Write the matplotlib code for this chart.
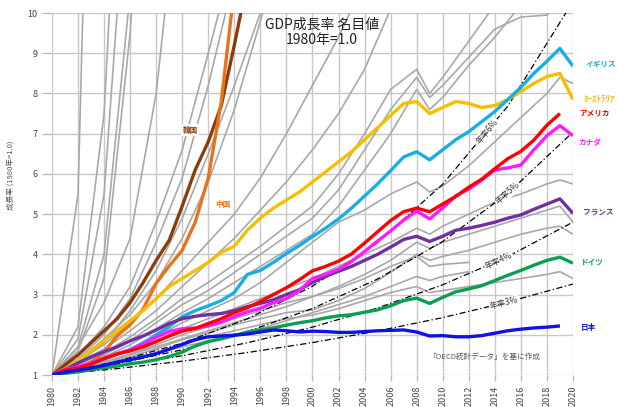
import numpy as np
import matplotlib
matplotlib.use('Agg')
import matplotlib.pyplot as plt

plt.rcParams['font.family'] = ['Noto Sans CJK JP', 'DejaVu Sans']

nan = np.nan
years = np.arange(1980, 2021)

# highlighted countries, yearly 1980-2020 (1980 = 1.0)
uk = [1.0, 1.09, 1.19, 1.3, 1.39, 1.52, 1.63, 1.8, 2.0, 2.2, 2.45, 2.6, 2.72, 2.85, 3.05, 3.5,
      3.6, 3.8, 4.02, 4.22, 4.44, 4.65, 4.88, 5.15, 5.45, 5.75, 6.08, 6.42, 6.55, 6.35, 6.6,
      6.85, 7.05, 7.3, 7.55, 7.85, 8.15, 8.5, 8.8, 9.12, 8.68]
australia = [1.0, 1.15, 1.35, 1.6, 1.85, 2.1, 2.35, 2.6, 2.9, 3.2, 3.4, 3.6, 3.8, 4.05, 4.2,
             4.6, 4.9, 5.15, 5.35, 5.55, 5.8, 6.05, 6.3, 6.55, 6.85, 7.15, 7.45, 7.75, 7.8,
             7.5, 7.65, 7.8, 7.75, 7.65, 7.7, 7.85, 8.05, 8.25, 8.42, 8.5, 7.85]
usa = [1.0, 1.12, 1.17, 1.27, 1.41, 1.52, 1.6, 1.7, 1.83, 1.97, 2.09, 2.16, 2.28, 2.4, 2.55,
       2.67, 2.83, 3.0, 3.17, 3.37, 3.59, 3.7, 3.83, 4.01, 4.28, 4.56, 4.84, 5.06, 5.15, 5.06,
       5.25, 5.44, 5.67, 5.87, 6.13, 6.38, 6.56, 6.84, 7.21, 7.5, nan]
canada = [1.0, 1.14, 1.2, 1.3, 1.42, 1.53, 1.62, 1.77, 1.94, 2.08, 2.15, 2.17, 2.22, 2.31, 2.45,
          2.57, 2.66, 2.8, 2.9, 3.1, 3.4, 3.5, 3.63, 3.82, 4.07, 4.33, 4.58, 4.85, 5.08, 4.88,
          5.15, 5.45, 5.62, 5.85, 6.1, 6.15, 6.22, 6.6, 6.95, 7.2, 6.95]
france = [1.0, 1.13, 1.3, 1.45, 1.58, 1.7, 1.85, 1.97, 2.12, 2.28, 2.4, 2.46, 2.5, 2.53, 2.6,
          2.7, 2.78, 2.87, 3.0, 3.12, 3.3, 3.45, 3.58, 3.7, 3.85, 4.0, 4.18, 4.37, 4.45, 4.32,
          4.45, 4.6, 4.65, 4.72, 4.8, 4.9, 4.98, 5.12, 5.25, 5.38, 5.02]
germany = [1.0, 1.04, 1.08, 1.13, 1.18, 1.22, 1.28, 1.32, 1.38, 1.46, 1.57, 1.72, 1.83, 1.9,
           1.98, 2.07, 2.12, 2.17, 2.24, 2.3, 2.35, 2.42, 2.47, 2.5, 2.56, 2.62, 2.72, 2.85,
           2.91, 2.78, 2.93, 3.07, 3.14, 3.22, 3.35, 3.48, 3.6, 3.73, 3.85, 3.93, 3.78]
japan = [1.0, 1.07, 1.12, 1.17, 1.24, 1.32, 1.38, 1.45, 1.53, 1.64, 1.76, 1.88, 1.95, 1.97,
         1.99, 2.02, 2.07, 2.12, 2.1, 2.07, 2.09, 2.08, 2.06, 2.06, 2.08, 2.1, 2.11, 2.12,
         2.07, 1.97, 1.98, 1.95, 1.95, 1.98, 2.04, 2.1, 2.14, 2.17, 2.19, 2.22, nan]
korea = [1.0, 1.25, 1.5, 1.8, 2.1, 2.4, 2.8, 3.3, 3.85, 4.35, 5.2, 6.1, 6.8, 7.7, 9.2, 10.8] + [nan] * 25
china = [1.0, 1.07, 1.16, 1.31, 1.57, 1.97, 2.25, 2.64, 3.28, 3.71, 4.1, 4.8, 5.9, 7.8, 10.6] + [nan] * 26

# other OECD countries (grey), sampled years
gray_years = [1980, 1982, 1984, 1986, 1988, 1990, 1992, 1994, 1996, 1998, 2000, 2002, 2004,
              2006, 2008, 2009, 2010, 2012, 2014, 2016, 2018, 2019, 2020]
others = [
    [1, 5.5, 30],
    [1, 2.2, 7.5, 20],
    [1, 1.9, 5.5, 14.5],
    [1, 1.7, 4.0, 10.5],
    [1, 1.6, 3.4, 9.5, 20],
    [1, 1.7, 2.8, 4.4, 8.0, 14],
    [1, 1.5, 2.2, 3.2, 4.8, 6.6, 9.0, 11.5],
    [1, 1.4, 2.0, 2.9, 4.3, 5.9, 8.2, 10.9],
    [1, 1.3, 1.8, 2.6, 3.6, 4.9, 6.5, 8.2, 10.0, 12],
    [1, 1.35, 1.9, 2.5, 3.3, 4.4, 5.8, 7.6, 9.8, 12],
    [1, 1.35, 1.75, 2.3, 2.9, 3.6, 4.3, 5.0, 5.9, 7.0, 8.2, 9.4, 10.8],
    [1, 1.3, 1.65, 2.1, 2.6, 3.2, 3.8, 4.4, 5.1, 5.8, 6.6, 7.5, 8.6, 10.1],
    [1, 1.25, 1.55, 1.95, 2.4, 2.9, 3.3, 3.75, 4.2, 4.7, 5.2, 6.0, 7.0, 8.1, 8.6, 8.0, 8.4, 9.3, 10.2],
    [1, 1.2, 1.5, 1.85, 2.3, 2.75, 3.1, 3.55, 4.0, 4.45, 4.9, 5.6, 6.6, 7.6, 8.4, 7.9, 8.2, 8.9,
     9.6, 9.9, 9.95, 10.3],
    [1, 1.2, 1.45, 1.75, 2.15, 2.55, 2.9, 3.3, 3.7, 4.1, 4.5, 5.2, 6.1, 7.0, 8.1, 7.6, 7.9, 8.7,
     9.4, 10.2],
    [1, 1.2, 1.4, 1.65, 1.95, 2.3, 2.6, 2.9, 3.3, 3.8, 4.3, 4.8, 5.1, 5.5, 5.8, 5.55, 5.7, 6.2,
     6.8, 7.4, 8.0, 8.4, 8.25],
    [1, 1.18, 1.38, 1.6, 1.85, 2.15, 2.4, 2.65, 2.9, 3.15, 3.4, 3.7, 4.0, 4.3, 4.65, 4.5, 4.7,
     5.0, 5.3, 5.5, 5.75, 5.85, 5.75],
    [1, 1.16, 1.33, 1.52, 1.75, 2.0, 2.2, 2.4, 2.6, 2.8, 2.95, 3.2, 3.5, 3.85, 4.3, 4.15, 4.3,
     4.5, 4.7, 4.9, 5.1, 5.2, 4.8],
    [1, 1.14, 1.28, 1.45, 1.65, 1.88, 2.05, 2.25, 2.4, 2.55, 2.62, 2.85, 3.15, 3.55, 4.0, 3.85,
     3.95, 4.1, 4.3, 4.5, 4.65, 4.7, 4.5],
    [1, 1.12, 1.25, 1.4, 1.55, 1.75, 1.95, 2.1, 2.25, 2.4, 2.49, 2.65, 2.85, 3.05, 3.2, 3.05,
     3.1, 3.2, 3.3, 3.4, 3.5, 3.57, 3.4],
    [1, 1.15, 1.3, 1.5, 1.7, 1.9, 2.1, 2.3, 2.5, 2.7, 2.95, 3.15, 3.4, 3.7, 3.95, 3.7, 3.75, 3.8],
    [1, 1.1, 1.25, 1.4, 1.55, 1.7, 1.85, 2.0, 2.15, 2.35, 2.55, 2.75, 2.95, 3.2, 3.45, 3.35,
     3.45, 3.57],
]

# constant growth reference lines
ref_years = [1980, 1985, 1990, 1995, 2000, 2005, 2010, 2015, 2020]
ref_6 = [1, 1.338, 1.791, 2.397, 3.207, 4.292, 5.743, 7.686, 10.286]
ref_5 = [1, 1.276, 1.629, 2.079, 2.653, 3.386, 4.322, 5.516, 7.040]
ref_4 = [1, 1.217, 1.480, 1.801, 2.191, 2.666, 3.243, 3.946, 4.801]
ref_3 = [1, 1.159, 1.344, 1.558, 1.806, 2.094, 2.427, 2.814, 3.262]

fig = plt.figure(figsize=(6.18, 4.07), dpi=100)
ax = fig.add_axes([0.0841, 0.0786, 0.8430, 0.8894])
ax.set_xlim(1980, 2020)
ax.set_ylim(1, 10)

for vals in others:
    ax.plot(gray_years[:len(vals)], vals, color='#A8A8A8', lw=1.2, zorder=2)

for ref in (ref_6, ref_5, ref_4, ref_3):
    ax.plot(ref_years, ref, color='black', lw=0.9, dashes=(5, 2, 1, 2), zorder=3)

series = [
    (korea, '#8B3C0C'), (china, '#E8731A'), (australia, '#F5BF00'), (uk, '#18AEE3'),
    (france, '#7030A0'), (canada, '#FF1AFF'), (usa, '#FF0000'), (germany, '#0AA050'),
    (japan, '#1010E8'),
]
for vals, col in series:
    ax.plot(years, vals, color=col, lw=2.4, zorder=4, solid_capstyle='butt')

# reference line labels
fig.canvas.draw()
for ref, txt, yr in ((ref_6, '年率6%', 2013.4), (ref_5, '年率5%', 2015.0),
                     (ref_4, '年率4%', 2014.3), (ref_3, '年率3%', 2014.7)):
    v = np.interp(yr, ref_years, ref)
    p1 = ax.transData.transform((yr - 1, np.interp(yr - 1, ref_years, ref)))
    p2 = ax.transData.transform((yr + 1, np.interp(yr + 1, ref_years, ref)))
    ang = np.degrees(np.arctan2(p2[1] - p1[1], p2[0] - p1[0]))
    ax.text(yr, v, txt, rotation=ang, rotation_mode='anchor', ha='center', va='center',
            fontsize=6, color='#333333', zorder=5,
            bbox=dict(boxstyle='square,pad=0.1', fc='white', ec='none'))

# country labels
labels = [('イギリス', 8.71, 2021.0, '#18AEE3', 5.5), ('ｵｰｽﾄﾗﾘｱ', 7.87, 2020.85, '#F5BF00', 6.5),
          ('アメリカ', 7.52, 2020.5, '#FF0000', 5.5), ('カナダ', 6.77, 2020.4, '#FF1AFF', 5.5),
          ('フランス', 5.05, 2020.8, '#7030A0', 5.5), ('ドイツ', 3.81, 2020.6, '#0AA050', 5.5),
          ('日本', 2.19, 2020.6, '#1010E8', 5.5)]
for name, v, x, col, fs in labels:
    ax.text(x, v, name, color=col, fontsize=fs, fontweight='bold', va='center',
            clip_on=False)
ax.text(1990.6, 7.09, '韓国', color='#8B3C0C', fontsize=5.5, fontweight='bold',
        ha='center', va='center', zorder=5,
        bbox=dict(boxstyle='square,pad=0.2', fc='white', ec='none'))
ax.text(1993.1, 5.23, '中国', color='#E8731A', fontsize=5.5, fontweight='bold',
        ha='center', va='center', zorder=5,
        bbox=dict(boxstyle='square,pad=0.2', fc='white', ec='none'))

ax.text(2000.7, 9.52, 'GDP成長率 名目値\n1980年=1.0', ha='center', va='center',
        fontsize=10, color='#222222', linespacing=1.05, zorder=6)
ax.text(2013.2, 1.45, '「OECD統計データ」を基に作成', ha='center', va='center',
        fontsize=5.5, color='#555555', zorder=6)

ax.set_xticks(range(1980, 2021, 2))
ax.set_xticklabels([str(y) for y in range(1980, 2021, 2)], rotation=90)
ax.set_yticks(range(1, 11))
ax.tick_params(axis='both', colors='#BBBBBB', labelcolor='#444444', labelsize=6.5)
ax.tick_params(axis='y', length=7, width=1)
ax.tick_params(axis='x', length=4, width=1)
ax.grid(True, color='#C8C8C8', lw=1)
ax.set_axisbelow(True)
for s in ax.spines.values():
    s.set_visible(False)

fig.text(12 / 618, 0.57, '成長率 (1980年=1.0)', rotation=90, ha='center', va='center',
         fontsize=5.5, color='#555555')

fig.savefig('out.png', dpi=100)
